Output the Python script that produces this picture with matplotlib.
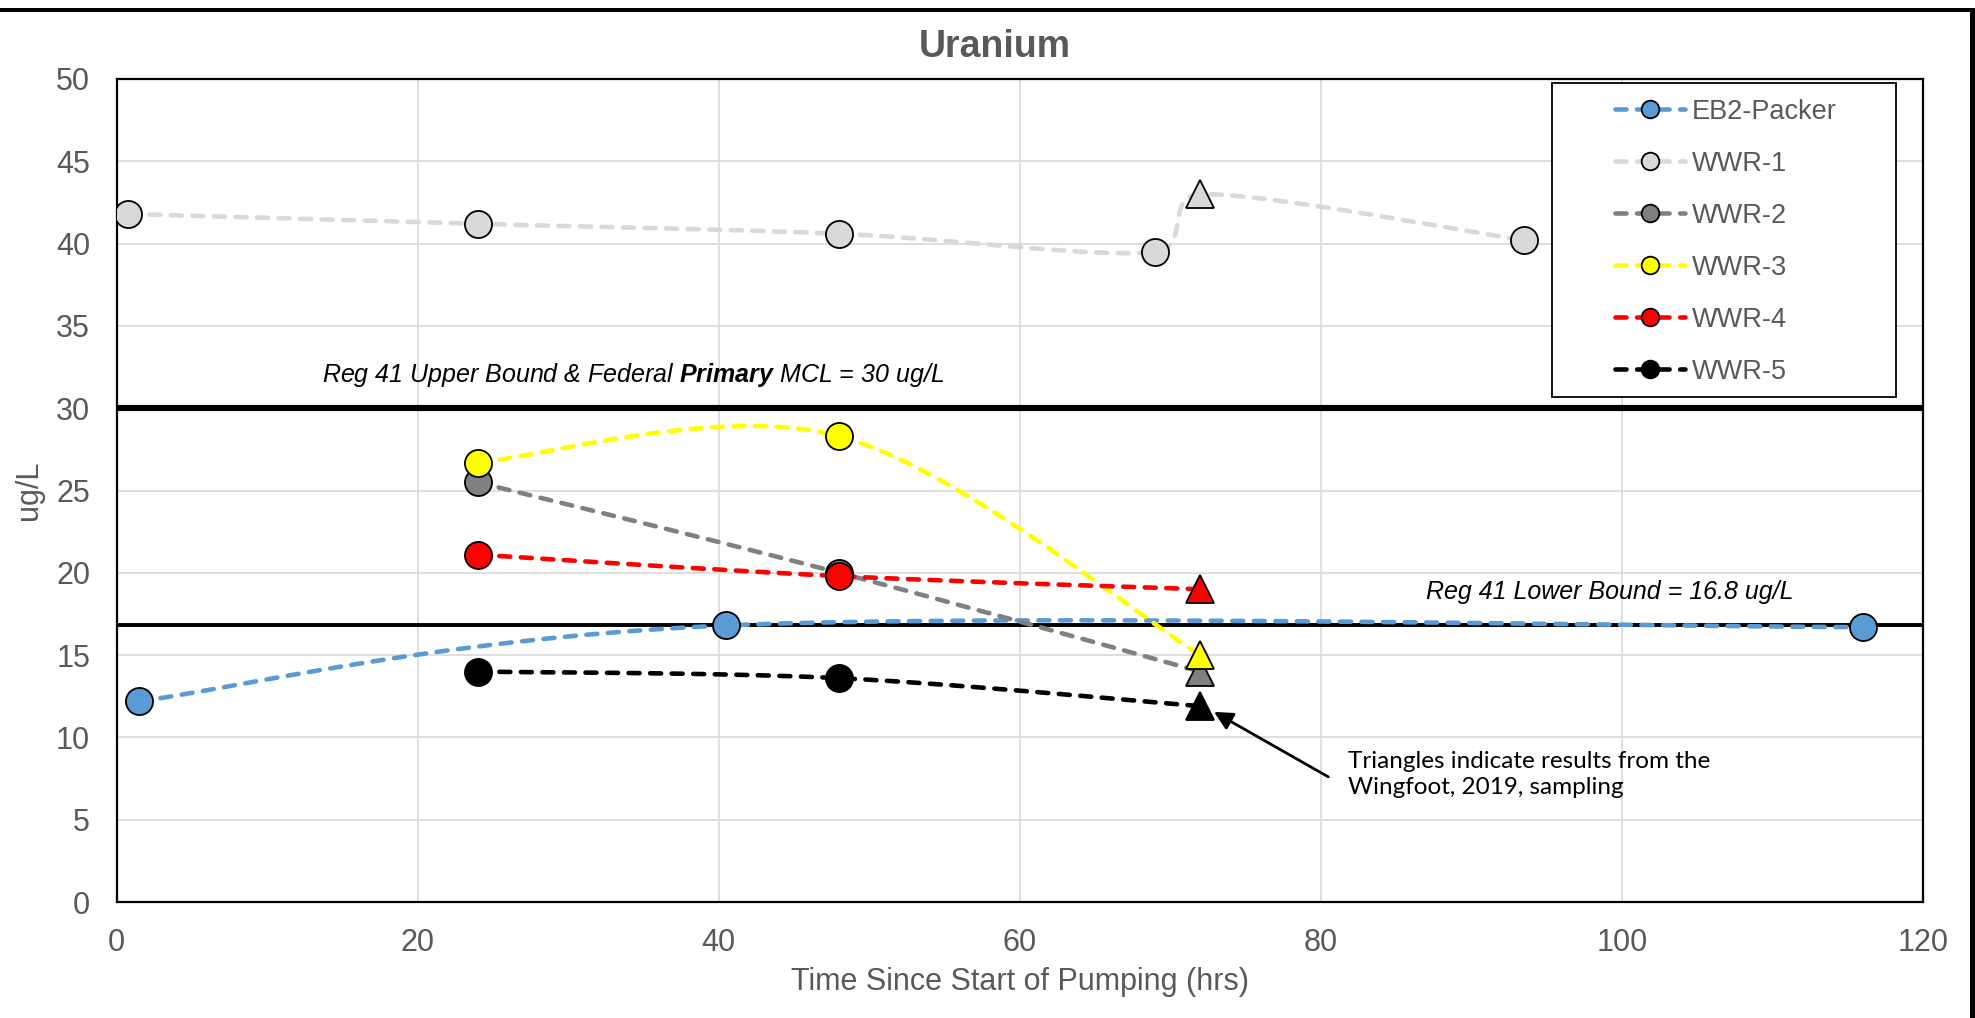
import numpy as np
import matplotlib
matplotlib.use("Agg")
import matplotlib.pyplot as plt
from matplotlib.lines import Line2D
from matplotlib.patches import Rectangle

plt.rcParams['font.family'] = ['Liberation Sans', 'DejaVu Sans']
plt.rcParams['mathtext.fontset'] = 'custom'
plt.rcParams['mathtext.rm'] = 'Liberation Sans:italic'
plt.rcParams['mathtext.bf'] = 'Liberation Sans:italic:bold'

# data (hours since start of pumping, uranium ug/L)
series_names = ['EB2-Packer', 'WWR-1', 'WWR-2', 'WWR-3', 'WWR-4', 'WWR-5']
eb2_hrs = [1.5, 40.5, 116.0]
eb2_ug = [12.2, 16.8, 16.7]
wwr1_hrs = [0.75, 24.0, 48.0, 69.0, 72.0, 93.5]
wwr1_ug = [41.8, 41.2, 40.6, 39.5, 43.0, 40.2]
wwr2_hrs = [24.0, 48.0, 72.0]
wwr2_ug = [25.5, 20.0, 14.0]
wwr3_hrs = [24.0, 48.0, 72.0]
wwr3_ug = [26.7, 28.3, 15.0]
wwr4_hrs = [24.0, 48.0, 72.0]
wwr4_ug = [21.1, 19.8, 19.0]
wwr5_hrs = [24.0, 48.0, 72.0]
wwr5_ug = [14.0, 13.6, 11.9]

# hour of the Wingfoot 2019 samples (drawn as triangles)
wingfoot_hr = 72.0

upper_bound = 30.0
lower_bound = 16.8

colors = ['#5B9BD5', '#D9D9D9', '#808080', '#FFFF00', '#FF0000', '#000000']
GRAY_TXT = '#595959'

W, H = 1975.0, 1018.0
AX_W, AX_H = 1806.5, 823.0
SX, SY = AX_W / 120.0, AX_H / 50.0   # pixels per data unit


def excel_smooth(x, y, n=60):
    """Bezier smoothing like an Excel 'smoothed line' (done in pixel space)."""
    pts = np.column_stack([np.array(x) * SX, np.array(y) * SY]).astype(float)
    m = len(pts)
    out = [pts[0]]
    t = np.linspace(0, 1, n)[1:, None]
    for i in range(m - 1):
        p0 = pts[max(i - 1, 0)]
        p1 = pts[i]
        p2 = pts[i + 1]
        p3 = pts[min(i + 2, m - 1)]
        d12 = np.hypot(*(p2 - p1))
        d02 = np.hypot(*(p2 - p0))
        d13 = np.hypot(*(p3 - p1))
        f1 = 1 / 6.0 if d02 / 6.0 < d12 / 2.0 else d12 / d02 / 2.0
        f2 = 1 / 6.0 if d13 / 6.0 < d12 / 2.0 else d12 / d13 / 2.0
        c1 = p1 + (p2 - p0) * f1
        c2 = p2 - (p3 - p1) * f2
        seg = (1 - t) ** 3 * p1 + 3 * (1 - t) ** 2 * t * c1 + 3 * (1 - t) * t ** 2 * c2 + t ** 3 * p2
        out.extend(seg)
    out = np.array(out)
    return out[:, 0] / SX, out[:, 1] / SY


fig = plt.figure(figsize=(19.75, 10.18), dpi=100)
ax = fig.add_axes([116.5 / W, (H - 902) / H, AX_W / W, AX_H / H])

ax.set_xlim(0, 120)
ax.set_ylim(0, 50)
ax.set_xticks(np.arange(0, 121, 20))
ax.set_yticks(np.arange(0, 51, 5))
ax.grid(True, color='#D9D9D9', linewidth=1.2, zorder=0)
ax.set_axisbelow(True)
for sp in ax.spines.values():
    sp.set_color('black')
    sp.set_linewidth(1.6)
ax.tick_params(length=0, pad=19, labelsize=22, labelcolor=GRAY_TXT)

# regulatory bounds
ax.axhline(upper_bound, color='black', linewidth=4.4, zorder=2)
ax.axhline(lower_bound, color='black', linewidth=2.8, zorder=2)

xs = [eb2_hrs, wwr1_hrs, wwr2_hrs, wwr3_hrs, wwr4_hrs, wwr5_hrs]
ys = [eb2_ug, wwr1_ug, wwr2_ug, wwr3_ug, wwr4_ug, wwr5_ug]
dash = (2.4, 2.3)
for k, (x, y) in enumerate(zip(xs, ys)):
    c = colors[k]
    sx, sy = excel_smooth(x, y)
    ax.plot(sx, sy, color=c, linewidth=3.3, dashes=dash,
            dash_capstyle='round', zorder=3 + k)
    x = np.array(x)
    y = np.array(y)
    tri = x == wingfoot_hr
    ax.plot(x[~tri], y[~tri], linestyle='none', marker='o', markersize=19.5,
            markerfacecolor=c, markeredgecolor='black', markeredgewidth=1.3,
            zorder=3 + k)
    ax.plot(x[tri], y[tri], linestyle='none', marker='^', markersize=19.5,
            markerfacecolor=c, markeredgecolor='black', markeredgewidth=1.3,
            zorder=3 + k)

# labels
ax.set_xlabel('Time Since Start of Pumping (hrs)', fontsize=22, color=GRAY_TXT, labelpad=6)
ax.set_ylabel('ug/L', fontsize=22, color=GRAY_TXT, labelpad=8.5)
fig.text(995 / W, 1 - 57 / H, 'Uranium', fontsize=27, fontweight='bold', color=GRAY_TXT,
         ha='center', va='baseline')

ax.text(13.65, 31.6, r'Reg 41 Upper Bound & Federal $\mathbf{Primary}$ MCL = 30 ug/L',
        fontsize=18, style='italic', ha='left', va='baseline', color='black', zorder=10)
ax.text(87.0, 18.4, 'Reg 41 Lower Bound = 16.8 ug/L', fontsize=18, style='italic',
        ha='left', va='baseline', color='black', zorder=10)

# annotation for the triangle markers
ax.annotate('', xy=(72.9, 11.55), xytext=(80.5, 7.6),
            arrowprops=dict(arrowstyle='-|>', color='black', lw=2.0,
                            mutation_scale=28, shrinkA=0, shrinkB=0), zorder=12)
ax.text(81.8, 9.2, 'Triangles indicate results from the\nWingfoot, 2019, sampling',
        fontsize=17.5, family=['Lato', 'DejaVu Sans'], ha='left', va='top',
        linespacing=1.3, color='black', zorder=12)

# legend with box drawn separately
handles = []
for k, name in enumerate(series_names):
    handles.append(Line2D([], [], color=colors[k], linewidth=3.3, dashes=dash,
                          dash_capstyle='round', marker='o', markersize=12.7,
                          markerfacecolor=colors[k], markeredgecolor='black',
                          markeredgewidth=1.3, label=name))
ax.add_patch(Rectangle((0.7946, 0.6136), 0.9851 - 0.7946, 0.9951 - 0.6136,
                       transform=ax.transAxes, facecolor='white', edgecolor='black',
                       linewidth=1.3, zorder=15))
leg = ax.legend(handles=handles, loc='upper left', bbox_to_anchor=(0.8295, 0.976),
                frameon=False, fontsize=19.5, handlelength=2.6, handletextpad=0.25,
                labelspacing=0.96, borderpad=0, borderaxespad=0)
leg.set_zorder(16)
for t in leg.get_texts():
    t.set_color(GRAY_TXT)

# outer chart border (top and right edges visible)
fig.add_artist(Line2D([0, 1], [1 - 10 / H, 1 - 10 / H], transform=fig.transFigure,
                      color='black', linewidth=2.9))
fig.add_artist(Line2D([1 - 3 / W, 1 - 3 / W], [0, 1 - 10 / H], transform=fig.transFigure,
                      color='black', linewidth=3.6))

fig.savefig('out.png', dpi=100)
